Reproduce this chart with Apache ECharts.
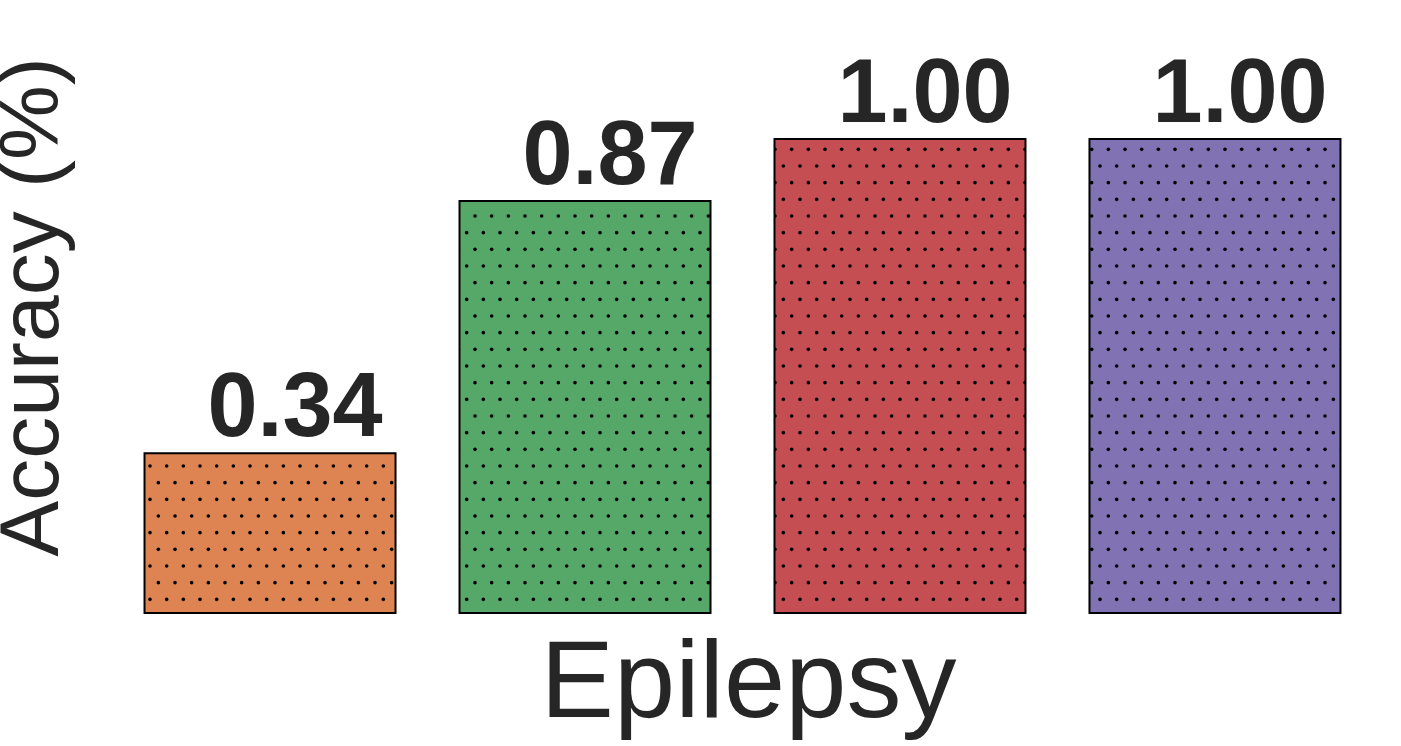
<!DOCTYPE html>
<html>
<head>
<meta charset="utf-8">
<title>Epilepsy accuracy</title>
<script src="https://cdn.jsdelivr.net/npm/echarts@6.0.0/dist/echarts.min.js"></script>
<style>
  html, body { margin: 0; padding: 0; background: #fff; }
  #main { width: 1401px; height: 746px; }
</style>
</head>
<body>
<div id="main"></div>
<script>
// data
var categories = ['Epilepsy'];
var seriesNames = ['Model 1', 'Model 2', 'Model 3', 'Model 4'];
var values = [0.34, 0.87, 1.00, 1.00];
var colors = ['#dd8452', '#55a868', '#c44e52', '#8172b3'];

// dotted hatch, drawn on a 50x100 tile so it lines up across bars
function dotPattern(bg) {
  var c = document.createElement('canvas');
  c.width = 50; c.height = 100;
  var ctx = c.getContext('2d');
  ctx.fillStyle = bg;
  ctx.fillRect(0, 0, 50, 100);
  ctx.fillStyle = '#000';
  var step = 50 / 3;
  var rows = [
    { y: 66, x0: 0 }, { y: 66 - 2 * step, x0: 0 }, { y: 66 - 4 * step + 100, x0: 0 },
    { y: 66 - step, x0: step / 2 }, { y: 66 - 3 * step, x0: step / 2 }, { y: 66 - 5 * step + 100, x0: step / 2 }
  ];
  rows.forEach(function (r) {
    for (var i = 0; i < 3; i++) {
      for (var dx = -1; dx <= 1; dx++) {
        for (var dy = -1; dy <= 1; dy++) {
          ctx.beginPath();
          ctx.arc(r.x0 + i * step + dx * 50, r.y + dy * 100, 1.8, 0, Math.PI * 2);
          ctx.fill();
        }
      }
    }
  });
  return c;
}

var chart = echarts.init(document.getElementById('main'));

var series = seriesNames.map(function (name, i) {
  return {
    name: name,
    type: 'bar',
    barWidth: 253,
    barGap: '24.5%',
    data: [values[i]],
    itemStyle: {
      color: { image: dotPattern(colors[i]), repeat: 'repeat' },
      borderColor: '#000',
      borderWidth: 2
    },
    label: {
      show: true,
      position: 'top',
      distance: 0,
      offset: [25, 4],
      formatter: function (p) { return p.value.toFixed(2); },
      color: '#262626',
      fontFamily: 'Liberation Sans',
      fontWeight: 'bold',
      fontSize: 90
    },
    emphasis: { disabled: true }
  };
});

var option = {
  animation: false,
  grid: {
    left: 105.5, right: 21.5, top: 0, bottom: 132,
    containLabel: false,
    outerBoundsMode: 'none'
  },
  xAxis: {
    type: 'category',
    data: categories,
    axisLine: { show: false },
    axisTick: { show: false },
    axisLabel: {
      margin: 18,
      padding: [0, 0, 0, 12],
      color: '#262626',
      fontFamily: 'Liberation Sans',
      fontSize: 110
    }
  },
  yAxis: {
    type: 'value',
    min: 0,
    max: 1.29,
    name: 'Accuracy (%)',
    nameLocation: 'middle',
    nameRotate: 90,
    nameGap: 29,
    nameTextStyle: {
      color: '#262626',
      fontFamily: 'Liberation Sans',
      fontSize: 84
    },
    axisLine: { show: false },
    axisTick: { show: false },
    axisLabel: { show: false },
    splitLine: { show: false }
  },
  series: series
};

chart.setOption(option);
</script>
</body>
</html>
